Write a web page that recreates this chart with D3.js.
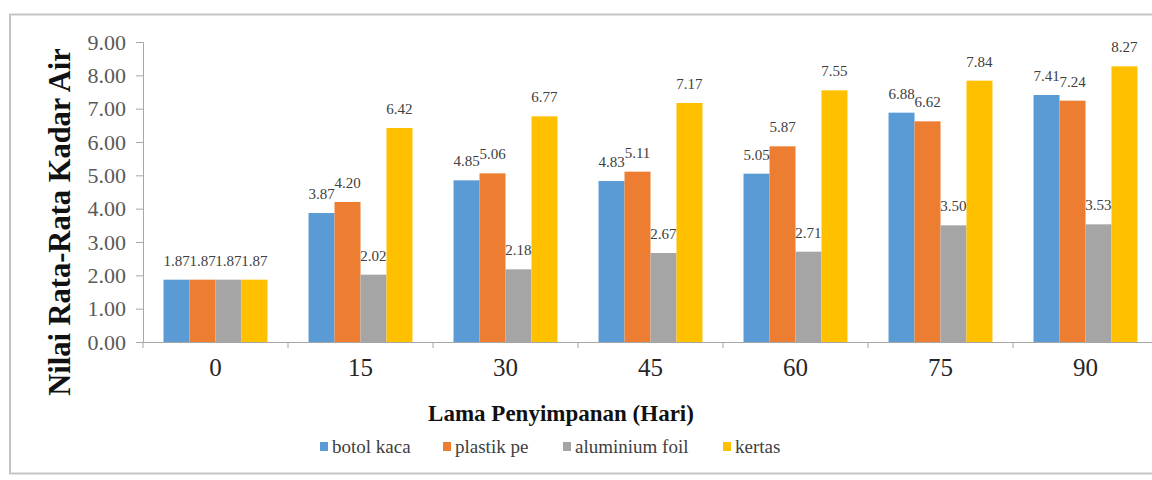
<!DOCTYPE html>
<html>
<head>
<meta charset="utf-8">
<script src="https://cdn.jsdelivr.net/npm/d3@7"></script>
<style>
  body { margin: 0; background: #fff; }
  svg { display: block; }
  svg text { font-family: "Liberation Serif", "Times New Roman", serif; }
</style>
</head>
<body>
<div id="chart"></div>
<script>
var days = ['0', '15', '30', '45', '60', '75', '90'];
var seriesNames = ['botol kaca', 'plastik pe', 'aluminium foil', 'kertas'];
var seriesColors = ['#5b9bd5', '#ed7d31', '#a5a5a5', '#ffc000'];

var botolKaca = [1.87, 3.87, 4.85, 4.83, 5.05, 6.88, 7.41];
var plastikPe = [1.87, 4.20, 5.06, 5.11, 5.87, 6.62, 7.24];
var aluminiumFoil = [1.87, 2.02, 2.18, 2.67, 2.71, 3.50, 3.53];
var kertas = [1.87, 6.42, 6.77, 7.17, 7.55, 7.84, 8.27];

var yTicks = [0, 1, 2, 3, 4, 5, 6, 7, 8, 9];

window.addEventListener('DOMContentLoaded', function () {
  drawChart();
});

function drawChart() {
  var w = 1152;
  var h = 480;
  var margin = { top: 42, right: -6, bottom: 138, left: 143 };

  var allSeries = [botolKaca, plastikPe, aluminiumFoil, kertas];

  var svg = d3.select("#chart")
    .append("svg")
    .attr("width", w)
    .attr("height", h);

  // outer chart frame (right side runs off the picture)
  svg.append("rect")
    .attr("x", 10)
    .attr("y", 14.5)
    .attr("width", 1300)
    .attr("height", 459)
    .attr("fill", "none")
    .attr("stroke", "#c4c4c4")
    .attr("stroke-width", 2);

  var x0 = d3.scaleBand()
    .domain(days)
    .range([margin.left, w - margin.right])
    .paddingInner(0)
    .paddingOuter(0);

  var x1 = d3.scaleBand()
    .domain(d3.range(seriesNames.length))
    .range([0, x0.bandwidth()])
    .paddingOuter(0.79)
    .paddingInner(0);

  var y = d3.scaleLinear()
    .domain([0, 9])
    .range([h - margin.bottom, margin.top]);

  // y axis
  var gy = svg.append("g")
    .attr("transform", "translate(" + margin.left + ",0)")
    .call(d3.axisLeft(y).tickValues(yTicks).tickSize(7).tickPadding(10)
      .tickFormat(function (d) { return d3.format(".2f")(d); }));

  gy.attr("font-family", null);
  gy.selectAll("text")
    .attr("fill", "#595959")
    .style("font-size", "22px");

  // bars
  var groups = svg.selectAll("g.day")
    .data(days)
    .enter()
    .append("g")
    .attr("class", "day")
    .attr("transform", function (d) { return "translate(" + x0(d) + ",0)"; });

  groups.selectAll("rect")
    .data(function (d, i) {
      return allSeries.map(function (s, k) { return { k: k, v: s[i] }; });
    })
    .enter()
    .append("rect")
    .attr("x", function (d) { return x1(d.k); })
    .attr("width", x1.bandwidth())
    .attr("y", function (d) { return y(d.v); })
    .attr("height", function (d) { return y(0) - y(d.v); })
    .attr("fill", function (d) { return seriesColors[d.k]; });

  groups.selectAll("text.val")
    .data(function (d, i) {
      return allSeries.map(function (s, k) { return { k: k, v: s[i] }; });
    })
    .enter()
    .append("text")
    .attr("class", "val")
    .attr("x", function (d) { return x1(d.k) + x1.bandwidth() / 2; })
    .attr("y", function (d) { return y(d.v) - 14; })
    .attr("text-anchor", "middle")
    .attr("fill", "#404040")
    .style("font-size", "15px")
    .text(function (d) { return d3.format(".2f")(d.v); });

  // x axis
  var gx = svg.append("g")
    .attr("transform", "translate(0," + y(0) + ")")
    .call(d3.axisBottom(x0).tickSize(0).tickPadding(16));

  gx.attr("font-family", null);
  gx.selectAll("text")
    .attr("fill", "#262626")
    .style("font-size", "25px");

  // tick marks between categories
  gx.selectAll("line.sep")
    .data(days)
    .enter()
    .append("line")
    .attr("class", "sep")
    .attr("x1", function (d) { return x0(d); })
    .attr("x2", function (d) { return x0(d); })
    .attr("y1", 0)
    .attr("y2", 6)
    .attr("stroke", "#a6a6a6");

  svg.selectAll("path.domain")
    .attr("stroke", "#a6a6a6");
  svg.selectAll(".tick line")
    .attr("stroke", "#a6a6a6");

  // axis titles
  svg.append("text")
    .attr("transform", "translate(70,222) rotate(-90)")
    .attr("text-anchor", "middle")
    .attr("fill", "#111")
    .style("font-weight", "bold")
    .style("font-size", "30.5px")
    .text("Nilai Rata-Rata Kadar Air");

  svg.append("text")
    .attr("x", 561)
    .attr("y", 421)
    .attr("text-anchor", "middle")
    .attr("fill", "#111")
    .style("font-weight", "bold")
    .style("font-size", "23px")
    .text("Lama Penyimpanan (Hari)");

  // legend
  var legendX = [320, 443, 563, 723];
  var legend = svg.selectAll("g.legend")
    .data(seriesNames)
    .enter()
    .append("g")
    .attr("class", "legend")
    .attr("transform", function (d, i) { return "translate(" + legendX[i] + ",0)"; });

  legend.append("rect")
    .attr("x", 0)
    .attr("y", 442)
    .attr("width", 8)
    .attr("height", 9)
    .attr("fill", function (d, i) { return seriesColors[i]; });

  legend.append("text")
    .attr("x", 12)
    .attr("y", 453)
    .attr("fill", "#404040")
    .style("font-size", "19px")
    .text(function (d) { return d; });
}
</script>
</body>
</html>
